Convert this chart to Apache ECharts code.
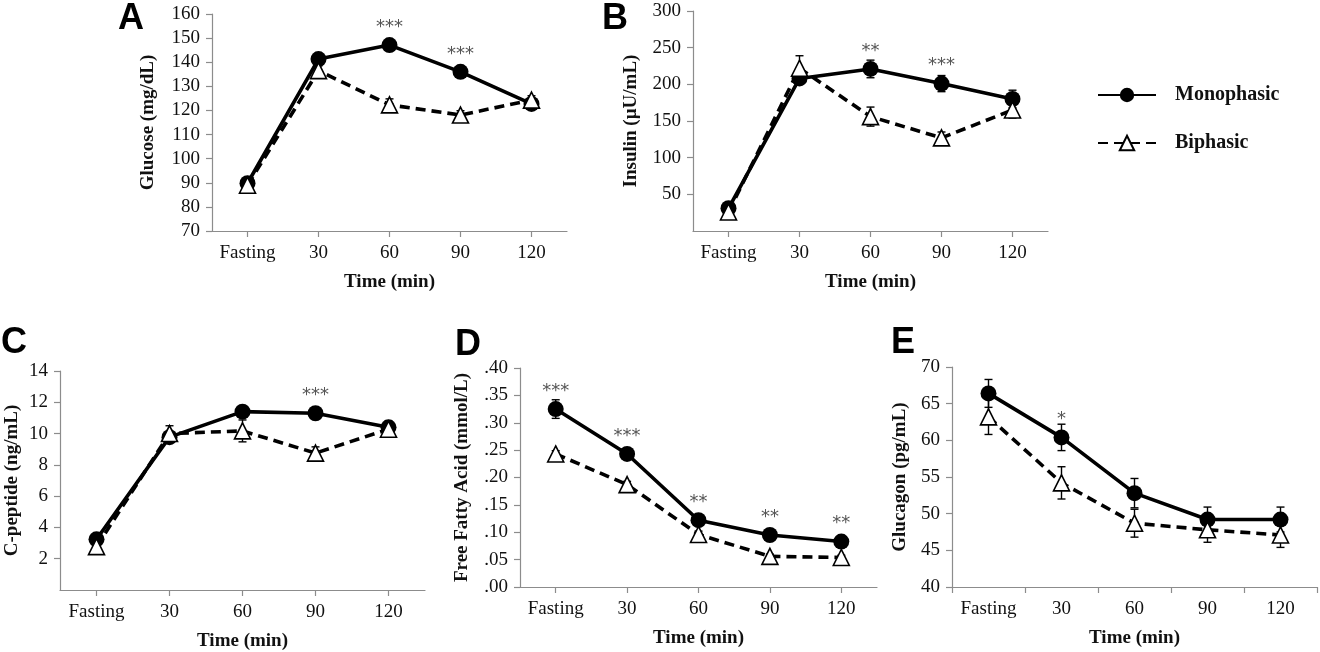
<!DOCTYPE html>
<html><head><meta charset="utf-8">
<script src="https://cdn.jsdelivr.net/npm/echarts@6/dist/echarts.min.js"></script>
<style>html,body{margin:0;padding:0;background:#fff}#c{width:1320px;height:652px}</style>
</head><body><div id="c"></div>
<script>
// ---------- data ----------
const categories = ['Fasting', '30', '60', '90', '120'];
const seriesNames = ['Monophasic', 'Biphasic'];

const glucoseMono    = [89.8, 141.3, 147.1, 136.0, 122.7];
const glucoseMonoErr = [1.5, 1.8, 1.8, 1.8, 1.8];
const glucoseBi      = [89.0, 136.5, 122.3, 118.1, 124.3];
const glucoseBiErr   = [1.2, 2.0, 2.5, 1.8, 1.8];
const glucoseSig     = ['', '', '***', '***', ''];

const insulinMono    = [31, 208, 221, 201, 180];
const insulinMonoErr = [4, 8, 12, 11, 12];
const insulinBi      = [26, 222, 156, 127, 165];
const insulinBiErr   = [3, 17, 13, 8, 11];
const insulinSig     = ['', '', '**', '***', ''];

const cpepMono    = [3.24, 9.77, 11.4, 11.3, 10.4];
const cpepMonoErr = [0.2, 0.3, 0.2, 0.3, 0.4];
const cpepBi      = [2.77, 10.0, 10.17, 8.75, 10.28];
const cpepBiErr   = [0.2, 0.5, 0.7, 0.4, 0.4];
const cpepSig     = ['', '', '', '***', ''];

const ffaMono    = [0.325, 0.243, 0.122, 0.095, 0.083];
const ffaMonoErr = [0.017, 0.008, 0.008, 0.006, 0.006];
const ffaBi      = [0.243, 0.187, 0.096, 0.056, 0.054];
const ffaBiErr   = [0.006, 0.006, 0.006, 0.004, 0.004];
const ffaSig     = ['***', '***', '**', '**', '**'];

const glucagonMono    = [66.4, 60.4, 52.8, 49.2, 49.2];
const glucagonMonoErr = [1.9, 1.8, 2.0, 1.7, 1.7];
const glucagonBi      = [63.2, 54.2, 48.7, 47.8, 47.1];
const glucagonBiErr   = [2.4, 2.2, 1.9, 1.7, 1.7];
const glucagonSig     = ['', '*', '', '', ''];

const panelLetters = ['A', 'B', 'C', 'D', 'E'];
const yNames = ['Glucose (mg/dL)', 'Insulin (\u00b5U/mL)', 'C-peptide (ng/mL)', 'Free Fatty Acid (mmol/L)', 'Glucagon (pg/mL)'];
const xName = 'Time (min)';

// ---------- layout ----------
const panels = [
  {grid:{left:212, top:14, width:355, height:217}, y:{min:70, max:160, interval:10}, nameGap:54, align:true,
   mono:glucoseMono, monoErr:glucoseMonoErr, bi:glucoseBi, biErr:glucoseBiErr, sig:glucoseSig, letter:[131,19]},
  {grid:{left:693, top:11, width:355, height:220}, y:{min:0, max:300, interval:50, hideMin:true}, nameGap:52, align:true,
   mono:insulinMono, monoErr:insulinMonoErr, bi:insulinBi, biErr:insulinBiErr, sig:insulinSig, letter:[615,19]},
  {grid:{left:60, top:371, width:365, height:219}, y:{min:0, max:14, interval:2, hideMin:true}, nameGap:38, align:true,
   mono:cpepMono, monoErr:cpepMonoErr, bi:cpepBi, biErr:cpepBiErr, sig:cpepSig, letter:[14,343]},
  {grid:{left:520, top:368, width:357, height:219}, y:{min:0, max:0.4, interval:0.05, dec:true}, nameGap:48, align:true,
   mono:ffaMono, monoErr:ffaMonoErr, bi:ffaBi, biErr:ffaBiErr, sig:ffaSig, letter:[468,345]},
  {grid:{left:952, top:367, width:365, height:220}, y:{min:40, max:70, interval:5}, nameGap:42, align:false,
   mono:glucagonMono, monoErr:glucagonMonoErr, bi:glucagonBi, biErr:glucagonBiErr, sig:glucagonSig, letter:[903,343]}
];

const SERIF = '"Liberation Serif", "Times New Roman", serif';
const AXIS_GREY = '#8c8c8c';

function errRender(params, api) {
  const x = api.value(0);
  const p1 = api.coord([x, api.value(1)]);
  const p2 = api.coord([x, api.value(2)]);
  const w = 4;
  const st = {stroke: '#000', lineWidth: 1.4};
  return {type: 'group', children: [
    {type: 'line', shape: {x1: p1[0], y1: p1[1], x2: p2[0], y2: p2[1]}, style: st},
    {type: 'line', shape: {x1: p1[0] - w, y1: p1[1], x2: p1[0] + w, y2: p1[1]}, style: st},
    {type: 'line', shape: {x1: p2[0] - w, y1: p2[1], x2: p2[0] + w, y2: p2[1]}, style: st}
  ]};
}

const grids = [], xAxes = [], yAxes = [], series = [], graphics = [];
panels.forEach((p, i) => {
  grids.push(Object.assign({containLabel: false}, p.grid));
  xAxes.push({
    type: 'category', gridIndex: i, data: categories, boundaryGap: true,
    name: xName, nameLocation: 'middle', nameGap: 42,
    nameTextStyle: {fontFamily: SERIF, fontWeight: 'bold', fontSize: 19, color: '#111'},
    axisLine: {lineStyle: {color: AXIS_GREY, width: 1.2}},
    axisTick: {show: true, alignWithLabel: p.align, length: 6, lineStyle: {color: AXIS_GREY, width: 1.2}},
    axisLabel: {fontFamily: SERIF, fontSize: 19, color: '#111', margin: 13, interval: 0},
    splitLine: {show: false}
  });
  yAxes.push({
    type: 'value', gridIndex: i, min: p.y.min, max: p.y.max, interval: p.y.interval,
    name: yNames[i], nameLocation: 'middle', nameGap: p.nameGap, nameRotate: 90,
    nameTextStyle: {fontFamily: SERIF, fontWeight: 'bold', fontSize: 19, color: '#111'},
    axisLine: {show: true, lineStyle: {color: AXIS_GREY, width: 1.2}},
    axisTick: {show: true, length: 6, lineStyle: {color: AXIS_GREY, width: 1.2}},
    axisLabel: {fontFamily: SERIF, fontSize: 19, color: '#111', margin: 12, showMinLabel: !p.y.hideMin,
      formatter: p.y.dec ? (v => v.toFixed(2).replace(/^0/, '')) : (v => String(v))},
    splitLine: {show: false}
  });
  series.push({
    type: 'custom', name: 'err-m' + i, xAxisIndex: i, yAxisIndex: i, z: 1,
    renderItem: errRender, silent: true,
    data: p.mono.map((v, k) => [k, v - p.monoErr[k], v + p.monoErr[k]])
  });
  series.push({
    type: 'custom', name: 'err-b' + i, xAxisIndex: i, yAxisIndex: i, z: 1,
    renderItem: errRender, silent: true,
    data: p.bi.map((v, k) => [k, v - p.biErr[k], v + p.biErr[k]])
  });
  series.push({
    type: 'line', name: seriesNames[0], xAxisIndex: i, yAxisIndex: i, z: 3,
    data: p.mono, symbol: 'circle', symbolSize: 16,
    itemStyle: {color: '#000', borderColor: '#000', borderWidth: 0},
    lineStyle: {color: '#000', width: 3.6, type: 'solid'},
    label: {show: true, position: 'top', distance: 1, color: '#555', fontFamily: '"DejaVu Sans", sans-serif', fontSize: 18,
      formatter: (pp) => p.sig[pp.dataIndex]},
    animation: false
  });
  series.push({
    type: 'line', name: seriesNames[1], xAxisIndex: i, yAxisIndex: i, z: 4,
    data: p.bi, symbol: 'triangle', symbolSize: 16,
    itemStyle: {color: '#fff', borderColor: '#000', borderWidth: 1.6},
    lineStyle: {color: '#000', width: 3.6, type: [10, 6]},
    animation: false
  });
  graphics.push({
    type: 'text', x: p.letter[0], y: p.letter[1],
    style: {text: panelLetters[i], font: 'bold 36px "Liberation Sans", Arial, sans-serif', fill: '#000',
      textAlign: 'center', textVerticalAlign: 'middle'}
  });
});

const chart = echarts.init(document.getElementById('c'), null, {renderer: 'canvas'});
chart.setOption({
  backgroundColor: '#fff',
  animation: false,
  grid: grids, xAxis: xAxes, yAxis: yAxes, series: series, graphic: graphics,
  legend: {
    data: seriesNames, orient: 'vertical', left: 1092, top: 80, itemGap: 28,
    itemWidth: 58, itemHeight: 18,
    textStyle: {fontFamily: SERIF, fontWeight: 'bold', fontSize: 20, color: '#111', padding: [0, 0, 0, 14]}
  }
});
</script>
</body></html>
